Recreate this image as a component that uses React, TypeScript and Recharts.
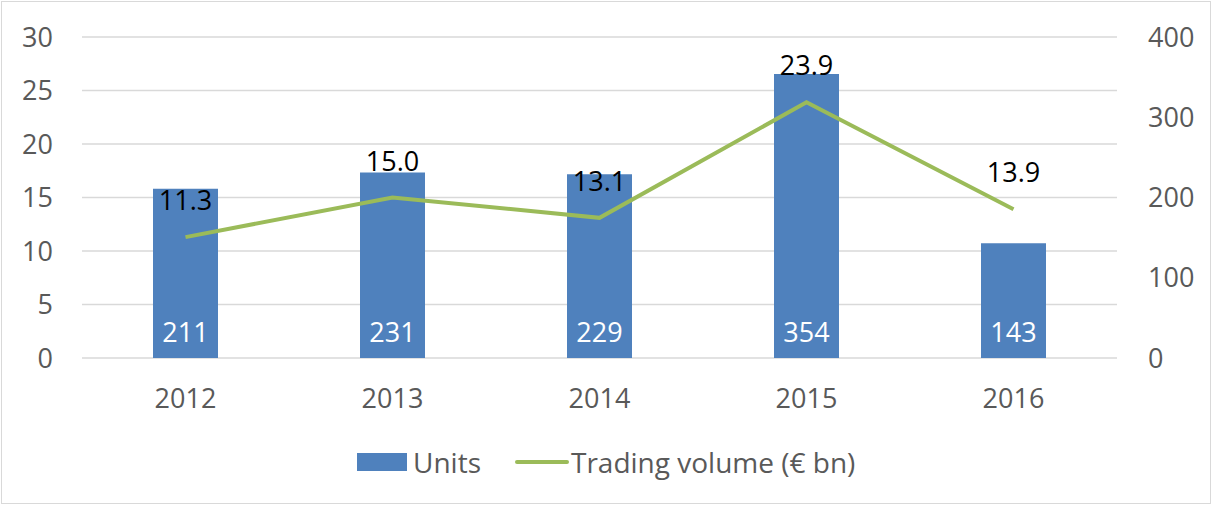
import {
  Bar,
  CartesianGrid,
  ComposedChart,
  LabelList,
  Legend,
  Line,
  XAxis,
  YAxis,
} from "recharts";

const years = ["2012", "2013", "2014", "2015", "2016"];
const units = [211, 231, 229, 354, 143];
const tradingVolume = [11.3, 15.0, 13.1, 23.9, 13.9];
const leftTicks = [0, 5, 10, 15, 20, 25, 30];
const rightTicks = [0, 100, 200, 300, 400];

const data = years.map((year, i) => ({
  year,
  units: units[i],
  volume: tradingVolume[i],
}));

const FONT = "'Open Sans', 'Noto Sans', sans-serif";
const TEXT = "#595959";
const BLUE = "#4f81bd";
const GREEN = "#9bbb59";

function ChartLegend() {
  return (
    <div
      style={{
        height: 30,
        display: "flex",
        alignItems: "center",
        fontFamily: FONT,
        fontSize: 28,
        color: TEXT,
        paddingLeft: 357,
      }}
    >
      <span style={{ width: 50, height: 18, background: BLUE, display: "inline-block" }} />
      <span style={{ marginLeft: 6 }}>Units</span>
      <span
        style={{
          width: 54,
          height: 4,
          borderRadius: 2,
          background: GREEN,
          display: "inline-block",
          marginLeft: 34,
        }}
      />
      <span style={{ marginLeft: 2 }}>Trading volume (€ bn)</span>
    </div>
  );
}

export default function App() {
  return (
    <div
      style={{
        position: "absolute",
        left: 0,
        top: 0,
        width: 1212,
        height: 505,
        background: "#fff",
        fontFamily: FONT,
      }}
    >
      <div
        style={{
          position: "absolute",
          left: 1,
          top: 1,
          width: 1208,
          height: 501,
          border: "1px solid #d9d9d9",
        }}
      />
      <ComposedChart
        width={1212}
        height={505}
        data={data}
        margin={{ top: 37, right: 0, bottom: 28, left: 0 }}
        barCategoryGap={71}
      >
        <CartesianGrid yAxisId="left" horizontal vertical={false} stroke="#d9d9d9" strokeWidth={1.5} />
        <XAxis
          dataKey="year"
          axisLine={false}
          tickLine={false}
          height={89}
          tickSize={0}
          tickMargin={31}
          tick={{ fill: TEXT, fontSize: 27, fontFamily: FONT }}
        />
        <YAxis
          yAxisId="left"
          orientation="left"
          width={82}
          domain={[0, 30]}
          ticks={leftTicks}
          axisLine={false}
          tickLine={false}
          tickSize={0}
          tickMargin={29}
          tick={{ fill: TEXT, fontSize: 27, fontFamily: FONT }}
        />
        <YAxis
          yAxisId="right"
          orientation="right"
          width={95}
          domain={[0, 400]}
          ticks={rightTicks}
          axisLine={false}
          tickLine={false}
          tickSize={0}
          tickMargin={31}
          tick={{ fill: TEXT, fontSize: 27, fontFamily: FONT, textAnchor: "start" }}
        />
        <Legend verticalAlign="bottom" content={() => <ChartLegend />} />
        <Bar yAxisId="right" dataKey="units" name="Units" fill={BLUE} isAnimationActive={false}>
          <LabelList
            dataKey="units"
            position="insideBottom"
            offset={16}
            fill="#ffffff"
            fontSize={27}
            fontFamily={FONT}
          />
        </Bar>
        <Line
          yAxisId="left"
          dataKey="volume"
          name="Trading volume (€ bn)"
          stroke={GREEN}
          strokeWidth={4}
          dot={false}
          type="linear"
          isAnimationActive={false}
        >
          <LabelList
            dataKey="volume"
            position="top"
            offset={27}
            fill="#000000"
            fontSize={27}
            fontFamily={FONT}
            formatter={(v: number) => v.toFixed(1)}
          />
        </Line>
      </ComposedChart>
    </div>
  );
}
